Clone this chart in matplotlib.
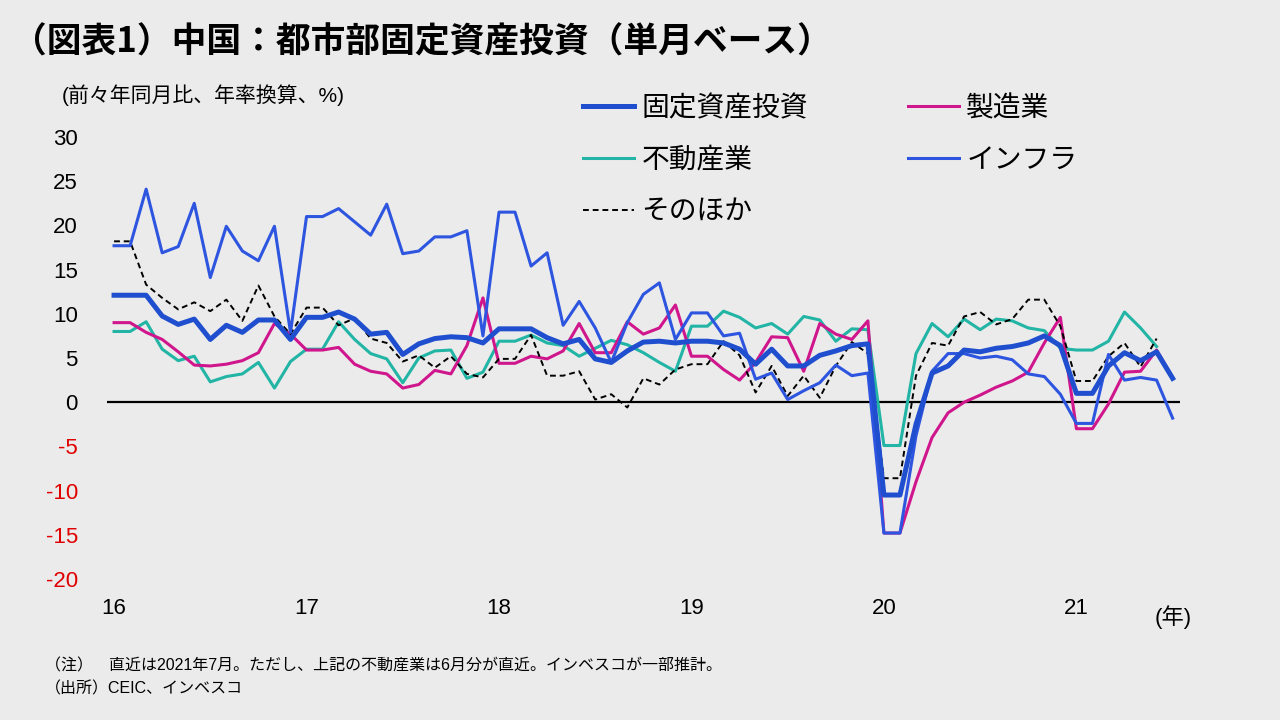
import numpy as np
import matplotlib
matplotlib.use('Agg')
import matplotlib.pyplot as plt

plt.rcParams['font.family'] = ['Liberation Sans', 'Noto Sans CJK JP', 'DejaVu Sans']

nan = np.nan

# 2016年1月〜2021年7月（月次、前々年同月比・年率換算 %）
months = np.arange(67)
year_ticks = [0, 12, 24, 36, 48, 60]
year_labels = ['16', '17', '18', '19', '20', '21']

fai = [12.1, 12.1, 12.1, 9.75, 8.8, 9.4, 7.1, 8.7, 7.9, 9.3, 9.3, 7.1,
       9.6, 9.6, 10.2, 9.4, 7.7, 7.9, 5.4, 6.6, 7.2, 7.4, 7.3, 6.7,
       8.3, 8.3, 8.3, 7.3, 6.6, 7.1, 4.9, 4.5, 5.8, 6.8, 6.9, 6.7,
       6.9, 6.9, 6.7, 6.0, 4.3, 6.0, 4.1, 4.1, 5.3, 5.8, 6.4, 6.6,
       -10.5, -10.5, -2.5, 3.3, 4.1, 5.9, 5.7, 6.1, 6.3, 6.7, 7.5, 6.4,
       1.0, 1.0, 4.1, 5.6, 4.7, 5.7, 2.7]

manufacturing = [9.0, 9.0, 7.9, 7.1, 5.7, 4.2, 4.1, 4.3, 4.7, 5.6, 8.9, 7.7,
                 5.9, 5.9, 6.2, 4.3, 3.5, 3.2, 1.6, 2.0, 3.6, 3.2, 6.4, 11.8,
                 4.4, 4.4, 5.2, 4.9, 5.8, 8.9, 5.6, 5.6, 9.1, 7.7, 8.4, 11.0,
                 5.2, 5.2, 3.7, 2.5, 4.5, 7.4, 7.3, 3.5, 8.9, 7.7, 7.1, 9.2,
                 -14.8, -14.8, -9.0, -4.0, -1.2, 0.0, 0.8, 1.7, 2.4, 3.4, 6.7, 9.6,
                 -3.0, -3.0, -0.2, 3.4, 3.5, 5.9, 2.8]

real_estate = [8.0, 8.0, 9.1, 6.0, 4.7, 5.2, 2.3, 2.9, 3.2, 4.5, 1.6, 4.6,
               6.0, 6.0, 9.1, 7.1, 5.5, 4.9, 2.2, 5.0, 5.8, 5.9, 2.7, 3.4,
               6.9, 6.9, 7.6, 6.7, 6.4, 5.2, 6.1, 7.0, 6.5, 5.6, 4.5, 3.5,
               8.6, 8.6, 10.3, 9.6, 8.4, 8.9, 7.7, 9.7, 9.3, 6.9, 8.3, 8.2,
               -4.9, -4.9, 5.5, 8.9, 7.4, 9.4, 8.2, 9.4, 9.2, 8.4, 8.1, 6.1,
               5.9, 5.9, 6.9, 10.2, 8.4, 6.3, nan]

infra = [17.7, 17.7, 24.1, 16.9, 17.6, 22.5, 14.1, 19.9, 17.1, 16.0, 19.9, 7.9,
         21.0, 21.0, 21.9, 20.4, 18.9, 22.4, 16.8, 17.1, 18.7, 18.7, 19.4, 7.5,
         21.5, 21.5, 15.4, 16.9, 8.7, 11.4, 8.4, 4.5, 9.0, 12.2, 13.5, 7.1,
         10.1, 10.1, 7.5, 7.8, 2.6, 3.3, 0.3, 1.3, 2.2, 4.2, 3.0, 3.3,
         -14.8, -14.8, -3.8, 3.5, 5.5, 5.5, 5.0, 5.2, 4.8, 3.2, 2.9, 0.9,
         -2.4, -2.4, 5.4, 2.5, 2.8, 2.5, -1.8]

other = [18.2, 18.2, 13.3, 11.8, 10.5, 11.3, 10.3, 11.6, 9.2, 13.2, 9.7, 7.7,
         10.7, 10.7, 8.7, 9.5, 7.2, 6.7, 4.6, 5.3, 3.9, 5.2, 3.2, 2.8,
         4.9, 4.9, 7.6, 3.0, 3.0, 3.5, 0.3, 0.9, -0.6, 2.7, 2.0, 3.7,
         4.3, 4.3, 6.9, 5.3, 1.1, 4.1, 0.7, 3.0, 0.5, 4.1, 6.8, 5.5,
         -8.6, -8.6, 3.0, 6.7, 6.4, 9.7, 10.2, 8.8, 9.4, 11.6, 11.6, 8.6,
         2.4, 2.4, 5.2, 6.7, 4.0, 7.2, nan]

yticks = [30, 25, 20, 15, 10, 5, 0, -5, -10, -15, -20]

bg = '#ebebeb'
fig = plt.figure(figsize=(12.8, 7.2), dpi=100, facecolor=bg)
ax = fig.add_axes([107/1280, 1-579/720, 1073/1280, 442/720])
ax.set_facecolor(bg)

ax.axhline(0, color='black', lw=1.6, zorder=1)
l_re, = ax.plot(months, real_estate, color='#22b5a5', lw=2.2, label='不動産業', zorder=2)
l_mf, = ax.plot(months, manufacturing, color='#d0168c', lw=2.2, label='製造業', zorder=3)
l_ot, = ax.plot(months, other, color='black', lw=1.4, ls=(0, (3, 2)), label='そのほか', zorder=4)
l_in, = ax.plot(months, infra, color='#2d55e0', lw=2.2, label='インフラ', zorder=5)
l_fa, = ax.plot(months, fai, color='#1f4fcf', lw=3.6, label='固定資産投資', zorder=6)

ax.set_xlim(-0.44, 66.46)
ax.set_ylim(-20, 30)
ax.set_yticks(yticks)
ax.set_yticklabels([str(v) for v in yticks])
for t, v in zip(ax.get_yticklabels(), yticks):
    if v < 0:
        t.set_color('#e00000')
ax.set_xticks(year_ticks)
ax.set_xticklabels(year_labels)
ax.tick_params(axis='y', length=0, pad=21, labelsize=16)
ax.tick_params(axis='x', length=0, pad=14, labelsize=16)
for s in ax.spines.values():
    s.set_visible(False)

# 凡例（2列）
leg = fig.legend([l_fa, l_re, l_ot, l_mf, l_in],
                 ['固定資産投資', '不動産業', 'そのほか', '製造業', 'インフラ'],
                 ncol=2, loc='upper left', bbox_to_anchor=(583/1280, 1-93/720),
                 frameon=False, handlelength=1.85, handletextpad=0.25,
                 labelspacing=0.78, columnspacing=3.6, borderpad=0, borderaxespad=0,
                 prop={'family': ['Noto Sans CJK JP'], 'size': 20})

fig.text(12/1280, 1-42/720, '（図表1）中国：都市部固定資産投資（単月ベース）',
         fontsize=25, fontweight='bold', va='center', ha='left',
         family=['Noto Sans CJK JP'])
fig.text(62/1280, 1-95/720, '(前々年同月比、年率換算、%)', fontsize=15,
         va='center', ha='left')
fig.text(1155/1280, 1-617/720, '(年)', fontsize=16, va='center', ha='left')
fig.text(45/1280, 1-666/720,
         '（注）　直近は2021年7月。ただし、上記の不動産業は6月分が直近。インベスコが一部推計。',
         fontsize=11.5, va='center', ha='left')
fig.text(45/1280, 1-689/720, '（出所）CEIC、インベスコ', fontsize=11.5,
         va='center', ha='left')

fig.savefig('out.png', dpi=100, facecolor=bg)
